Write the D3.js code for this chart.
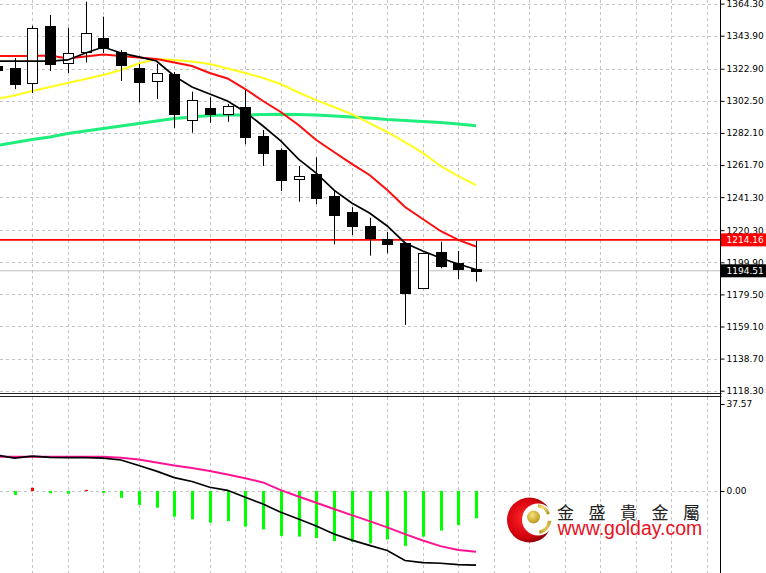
<!DOCTYPE html>
<html><head><meta charset="utf-8">
<script src="https://cdn.jsdelivr.net/npm/d3@7"></script>
<style>html,body{margin:0;padding:0;background:#fff;} svg{display:block;}</style>
</head><body>
<svg id="c" width="766" height="573"></svg>
<script>
// ---------- DATA ----------
const barIndex = d3.range(-1, 27);
const opens  = [1324.6,1323.4,1313.7,1350.1,1326.7,1333.7,1342.6,1333.4,1323.2,1315.3,1319.6,1290.3,1298.1,1294.0,1298.4,1280.2,1271.3,1252.8,1255.8,1242.0,1232.1,1223.2,1214.4,1212.0,1183.4,1206.3,1199.3,1195.8];
const highs  = [1328.5,1329.7,1350.3,1357.1,1349.0,1365.5,1356.0,1334.8,1325.9,1325.9,1320.8,1308.3,1304.8,1300.5,1309.4,1284.0,1272.3,1261.1,1266.6,1245.8,1234.9,1228.2,1219.2,1212.8,1206.0,1213.0,1207.1,1213.5];
const lows   = [1319.6,1310.0,1307.5,1321.5,1320.2,1327.0,1332.9,1315.1,1301.6,1303.7,1285.4,1282.3,1288.6,1289.2,1274.9,1261.1,1245.2,1238.4,1236.9,1211.3,1217.2,1204.1,1205.6,1160.1,1183.0,1196.1,1189.1,1187.6];
const closes = [1322.1,1313.2,1349.0,1325.7,1332.7,1345.4,1336.3,1325.3,1314.3,1320.4,1294.0,1303.0,1294.0,1299.2,1279.7,1269.5,1252.2,1254.7,1241.0,1230.0,1223.0,1215.5,1211.5,1180.6,1205.6,1197.7,1195.6,1194.51];

const maBlack  = [1327.8,1327.8,1327.8,1327.8,1328.5,1332.9,1336.7,1332.9,1330.4,1327.8,1318.3,1311.3,1306.9,1302.4,1295.4,1286.5,1277.0,1265.5,1256.6,1245.8,1237.6,1231.2,1223.0,1212.2,1207.1,1202.6,1198.8,1195.3];
const maRed    = [1331.0,1331.0,1331.0,1331.3,1329.4,1330.7,1332.0,1331.0,1330.0,1329.1,1326.9,1324.6,1320.2,1316.7,1310.0,1302.4,1295.4,1287.2,1277.6,1270.0,1262.4,1255.4,1245.8,1235.0,1227.4,1219.8,1214.1,1209.9];
const maYellow = [1303.7,1305.9,1308.8,1311.3,1313.8,1316.4,1318.9,1322.1,1326.2,1329.1,1328.5,1327.5,1325.9,1323.1,1320.2,1317.0,1313.2,1307.8,1303.0,1298.6,1294.1,1288.4,1282.7,1276.3,1269.4,1261.1,1254.7,1249.0];
const maGreen  = [1274.1,1276.0,1277.9,1279.5,1281.7,1283.3,1284.9,1286.5,1288.1,1289.7,1291.3,1292.2,1293.2,1293.5,1293.5,1293.8,1294.0,1293.8,1293.5,1292.9,1292.2,1291.6,1290.6,1290.0,1289.4,1288.7,1287.8,1286.7];

const macdHist   = [null,-1.7,1.4,-1.0,-1.2,0.5,-0.8,-2.9,-6.0,-7.2,-11.1,-12.2,-13.7,-13.0,-15.4,-16.6,-19.4,-19.7,-20.3,-21.6,-22.0,-22.6,-20.9,-23.7,-19.7,-17.1,-14.7,-11.8];
const macdLine   = [15.5,14.2,15.1,14.5,14.4,14.4,14.2,13.4,11.0,8.6,5.8,4.1,1.6,0.3,-2.7,-5.6,-9.2,-12.1,-15.1,-18.6,-21.2,-23.5,-25.7,-30.0,-30.9,-31.2,-31.8,-32.0];
const macdSignal = [14.8,14.8,14.8,14.8,14.8,14.8,14.8,14.4,13.6,12.3,11.0,9.9,8.6,7.1,5.5,3.7,0.4,-2.4,-5.1,-7.8,-10.4,-13.0,-15.7,-18.6,-21.4,-23.8,-25.5,-26.2];

const priceTicks = ["1364.30","1343.90","1322.90","1302.50","1282.10","1261.70","1241.30","1220.30","1199.90","1179.50","1159.10","1138.70","1118.30"];
const subTicks = ["37.57","0.00"];
const levelRed = 1214.16;
const levelLast = 1194.51;
const brandCN = "金盛貴金屬";
const brandURL = "www.golday.com";

// ---------- LAYOUT ----------
const axisX = 720.5, mainBottom = 393, subTop = 396, H = 573;
const svg = d3.select("#c");
const x = d3.scaleLinear().domain([0, 26]).range([14.5, 476]);
const y = d3.scaleLinear().domain([1118.3, 1364.3]).range([390.7, 3.6]);
const y2 = d3.scaleLinear().domain([0, 37.57]).range([491, 404]);

const defs = svg.append("defs");
defs.append("clipPath").attr("id","clipMain").append("rect").attr("x",0).attr("y",0).attr("width",axisX).attr("height",mainBottom);
defs.append("clipPath").attr("id","clipSub").append("rect").attr("x",0).attr("y",subTop+1).attr("width",axisX).attr("height",H-subTop);

const gridColor = "#c4c4c4";
const vg = svg.append("g");
const gridIdx = d3.range(1, 40, 2);
gridIdx.forEach(i => {
  const gx = Math.round(x(i)) + 0.5;
  vg.append("line").attr("x1",gx).attr("x2",gx).attr("y1",0).attr("y2",mainBottom)
    .attr("stroke",gridColor).attr("stroke-dasharray","3,3");
  vg.append("line").attr("x1",gx).attr("x2",gx).attr("y1",subTop+1).attr("y2",H)
    .attr("stroke",gridColor).attr("stroke-dasharray","3,3");
});
priceTicks.forEach(t => {
  const gy = Math.round(y(+t)) + 0.5;
  vg.append("line").attr("x1",0).attr("x2",axisX).attr("y1",gy).attr("y2",gy)
    .attr("stroke",gridColor).attr("stroke-dasharray","3,3");
});
{
  const gy = Math.round(y2(0)) + 0.5;
  vg.append("line").attr("x1",0).attr("x2",axisX).attr("y1",gy).attr("y2",gy)
    .attr("stroke",gridColor).attr("stroke-dasharray","3,3");
}

const gm = svg.append("g").attr("clip-path","url(#clipMain)");
gm.append("line").attr("x1",0).attr("x2",axisX).attr("y1",y(levelLast)).attr("y2",y(levelLast))
  .attr("stroke","#c0c0c0").attr("stroke-width",1);
gm.append("line").attr("x1",0).attr("x2",axisX).attr("y1",y(levelRed)).attr("y2",y(levelRed))
  .attr("stroke","#ff0000").attr("stroke-width",1.6);

const line = d3.line().x((d,i) => x(barIndex[i])).y(d => y(d));
gm.append("path").attr("d", line(maGreen)).attr("fill","none").attr("stroke","#1fee7c").attr("stroke-width",3);
gm.append("path").attr("d", line(maYellow)).attr("fill","none").attr("stroke","#ffff1a").attr("stroke-width",2);
gm.append("path").attr("d", line(maRed)).attr("fill","none").attr("stroke","#ff0c0c").attr("stroke-width",2);

const candles = barIndex.map((b,i) => ({b, o:opens[i], h:highs[i], l:lows[i], c:closes[i]}));
const cg = gm.append("g");
candles.forEach(d => {
  const cx = Math.round(x(d.b));
  cg.append("line").attr("x1",cx+0.5).attr("x2",cx+0.5).attr("y1",y(d.h)).attr("y2",y(d.l))
    .attr("stroke","#000").attr("stroke-width",1);
  const top = Math.round(y(Math.max(d.o,d.c))) + 0.5;
  const bot = Math.round(y(Math.min(d.o,d.c))) + 0.5;
  cg.append("rect").attr("x",cx-4.5).attr("y",top).attr("width",10).attr("height",Math.max(bot-top,1))
    .attr("fill", d.c < d.o ? "#000" : "#fff").attr("stroke","#000").attr("stroke-width",1);
});
gm.append("path").attr("d", line(maBlack)).attr("fill","none").attr("stroke","#000").attr("stroke-width",1.7);

// ---------- MACD panel ----------
const gs = svg.append("g").attr("clip-path","url(#clipSub)");
barIndex.forEach((b,i) => {
  const v = macdHist[i];
  if (v === null) return;
  const cx = Math.round(x(b));
  const y0 = y2(0), y1 = y2(v);
  gs.append("rect").attr("x",cx-1).attr("width",3)
    .attr("y",Math.min(y0,y1)).attr("height",Math.max(Math.abs(y1-y0),1.2))
    .attr("fill", v > 0 ? "#ff0000" : "#00ff00");
});
const line2 = d3.line().x((d,i) => x(barIndex[i])).y(d => y2(d));
gs.append("path").attr("d", line2(macdSignal)).attr("fill","none").attr("stroke","#ff1493").attr("stroke-width",2);
gs.append("path").attr("d", line2(macdLine)).attr("fill","none").attr("stroke","#000").attr("stroke-width",1.7);

svg.append("line").attr("x1",0).attr("x2",axisX+1).attr("y1",mainBottom+0.5).attr("y2",mainBottom+0.5).attr("stroke","#222");
svg.append("line").attr("x1",0).attr("x2",axisX+1).attr("y1",subTop+0.5).attr("y2",subTop+0.5).attr("stroke","#222");

// ---------- AXES ----------
const fontFam = "DejaVu Sans, Verdana, sans-serif";
const ax = svg.append("g").attr("transform",`translate(${axisX},0)`)
  .call(d3.axisRight(y).tickValues(priceTicks.map(Number)).tickFormat((d,i)=>priceTicks[i]).tickSize(4).tickPadding(2));
ax.select(".domain").remove();
ax.attr("font-family",fontFam).attr("font-size",9);
ax.selectAll("text").attr("fill","#000");
const ax2 = svg.append("g").attr("transform",`translate(${axisX},0)`)
  .call(d3.axisRight(y2).tickValues(subTicks.map(Number)).tickFormat((d,i)=>subTicks[i]).tickSize(4).tickPadding(2));
ax2.select(".domain").remove();
ax2.attr("font-family",fontFam).attr("font-size",9);
svg.append("line").attr("x1",axisX).attr("x2",axisX).attr("y1",0).attr("y2",H).attr("stroke","#000");

function tag(val, color) {
  const ty = y(val);
  svg.append("rect").attr("x",axisX+0.5).attr("y",ty-6.5).attr("width",766-axisX).attr("height",13).attr("fill",color);
  svg.append("text").attr("x",726.5).attr("y",ty).attr("dy","0.34em")
    .attr("font-family",fontFam).attr("font-size",9).attr("fill","#fff").text(val.toFixed(2));
}
tag(levelRed, "#ff0000");
tag(levelLast, "#000000");

// ---------- LOGO ----------
const logo = svg.append("g");
const rg = defs.append("radialGradient").attr("id","redg").attr("cx","40%").attr("cy","45%").attr("r","60%");
rg.append("stop").attr("offset","0%").attr("stop-color","#ff2a2a");
rg.append("stop").attr("offset","70%").attr("stop-color","#d4000c");
rg.append("stop").attr("offset","100%").attr("stop-color","#8a0008");
const gg = defs.append("radialGradient").attr("id","goldg").attr("cx","40%").attr("cy","35%").attr("r","70%");
gg.append("stop").attr("offset","0%").attr("stop-color","#f6e27a");
gg.append("stop").attr("offset","100%").attr("stop-color","#b8941a");
logo.append("circle").attr("cx",529.5).attr("cy",520).attr("r",22.5).attr("fill","url(#redg)");
logo.append("circle").attr("cx",538).attr("cy",519.5).attr("r",16).attr("fill","#fff");
const arc = d3.arc();
logo.append("path").attr("transform","translate(536,519)")
  .attr("d", arc({innerRadius:12, outerRadius:15, startAngle:0.15, endAngle:1.2}))
  .attr("fill","url(#goldg)");
logo.append("path").attr("transform","translate(536,519)")
  .attr("d", arc({innerRadius:12, outerRadius:15.5, startAngle:1.7, endAngle:2.9}))
  .attr("fill","url(#goldg)");
logo.append("circle").attr("cx",533.5).attr("cy",517).attr("r",6.5).attr("fill","url(#goldg)");
logo.append("text").attr("x",557).attr("y",518.5)
  .attr("font-family","Noto Sans CJK TC, Noto Sans CJK SC, sans-serif").attr("font-size",17)
  .attr("letter-spacing",14.5).attr("fill","#222").text(brandCN);
logo.append("text").attr("x",557.5).attr("y",534.5)
  .attr("font-family","Liberation Sans, Arial, sans-serif").attr("font-size",19.5)
  .attr("fill","#e8101e").text(brandURL);
</script>
</body></html>
